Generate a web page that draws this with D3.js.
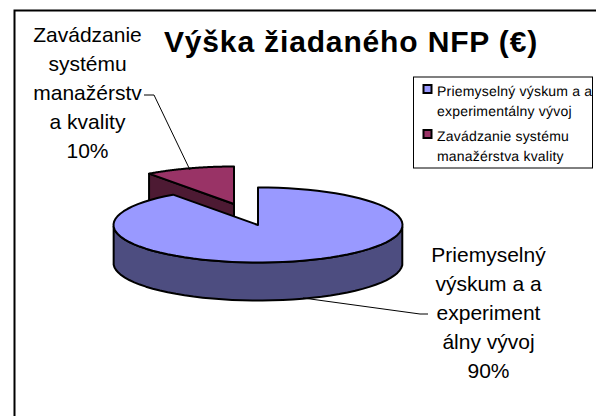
<!DOCTYPE html>
<html>
<head>
<meta charset="utf-8">
<script src="https://cdn.jsdelivr.net/npm/d3@7"></script>
<style>
  html, body { margin: 0; background: #fff; }
  svg { display: block; }
  text { font-family: "Liberation Sans", Arial, sans-serif; fill: #000; }
</style>
</head>
<body>
<div id="chart"></div>
<script>
// chart data
const categories = ['Priemyselný výskum a a experimentálny vývoj', 'Zavádzanie systému manažérstva kvality'];
const values = [90, 10];
const topColors = ['#9999ff', '#993366'];
const sideColors = ['#4d4d80', '#4d1a33'];
const legendLines = [['Priemyselný výskum a a', 'experimentálny vývoj'], ['Zavádzanie systému', 'manažérstva kvality']];
const labelLines = [
  ['Priemyselný', 'výskum a a', 'experiment', 'álny vývoj', '90%'],
  ['Zavádzanie', 'systému', 'manažérstv', 'a kvality', '10%']
];

const w = 596, h = 416;
const svg = d3.select('#chart').append('svg').attr('width', w).attr('height', h);

// outer frame, only the top and left edges are inside the picture
svg.append('path')
  .attr('d', d3.line()([[14.5, h], [14.5, 10.5], [w, 10.5]]))
  .attr('fill', 'none').attr('stroke', '#000').attr('stroke-width', 2);

svg.append('text')
  .attr('x', 351).attr('y', 52)
  .attr('text-anchor', 'middle')
  .style('font-size', '30px').style('font-weight', 'bold').style('letter-spacing', '0.85px')
  .text('Výška žiadaného NFP (€)');

//////////// PIE ////////////
const rx = 144.5, ry = 37.5, depth = 38;
const centers = [{x: 258, y: 225}, {x: 234, y: 204}];

// clockwise from 12 o'clock, as the source chart does
const arcs = d3.pie().sort(null)(values);

// flattened slice outline, sampled along the arc
function rimPoints(d, c) {
  const n = 80;
  return d3.range(n + 1).map(i => {
    const a = d.startAngle + (d.endAngle - d.startAngle) * i / n;
    return [c.x + rx * Math.sin(a), c.y - ry * Math.cos(a)];
  });
}
const line = d3.line();

const order = [1, 0]; // red piece sits behind the blue one
order.forEach(i => {
  const c = centers[i], rim = rimPoints(arcs[i], c);
  const g = svg.append('g').attr('stroke', '#000').attr('stroke-width', 2).attr('stroke-linejoin', 'round');
  if (i === 1) {
    // wall showing along the cut edge of the red slice
    const end = rim[0];
    g.append('path')
      .attr('d', line([[c.x, c.y], end, [end[0], end[1] + depth], [c.x, c.y + depth]]) + 'Z')
      .attr('fill', sideColors[i]);
  } else {
    // front wall: only the part of the rim facing the viewer
    const front = rim.filter((p, k) => {
      const a = arcs[i].startAngle + (arcs[i].endAngle - arcs[i].startAngle) * k / 80;
      return a >= Math.PI / 2 && a <= 3 * Math.PI / 2;
    });
    const lower = front.map(p => [p[0], p[1] + depth]).reverse();
    g.append('path')
      .attr('d', line(front.concat(lower)) + 'Z')
      .attr('fill', sideColors[i]);
  }
  g.append('path')
    .attr('d', line([[c.x, c.y]].concat(rim)) + 'Z')
    .attr('fill', topColors[i]);
});

//////////// LEADER LINES ////////////
const leaders = [
  [[303, 298], [420, 314], [428, 314]],
  [[190, 170], [154, 95], [144, 95]]
];
leaders.forEach(l => {
  svg.append('path').attr('d', line(l)).attr('fill', 'none').attr('stroke', '#000').attr('stroke-width', 1);
});

//////////// DATA LABELS ////////////
const labelX = [488.5, 87.5], labelY = [262, 42], labelStep = 29.1;
labelLines.forEach((lines, i) => {
  svg.append('text')
    .attr('text-anchor', 'middle')
    .style('font-size', '21px')
    .selectAll('tspan')
    .data(lines)
    .join('tspan')
    .attr('x', labelX[i])
    .attr('y', (d, k) => labelY[i] + k * labelStep)
    .text(d => d);
});

//////////// LEGEND ////////////
const legend = svg.append('g');
legend.append('rect')
  .attr('x', 413.5).attr('y', 77).attr('width', 179).attr('height', 91)
  .attr('fill', '#fff').attr('stroke', '#000');
const legendY = [96, 141];
categories.forEach((c, i) => {
  legend.append('rect')
    .attr('x', 423.5).attr('y', legendY[i] - 11).attr('width', 8).attr('height', 8)
    .attr('fill', topColors[i]).attr('stroke', '#000').attr('stroke-width', 2);
  legendLines[i].forEach((t, k) => {
    legend.append('text')
      .attr('x', 437).attr('y', legendY[i] + k * 19.5)
      .style('font-size', '14px').style('letter-spacing', '0.2px')
      .style('text-rendering', 'geometricPrecision')
      .text(t);
  });
});
</script>
</body>
</html>
